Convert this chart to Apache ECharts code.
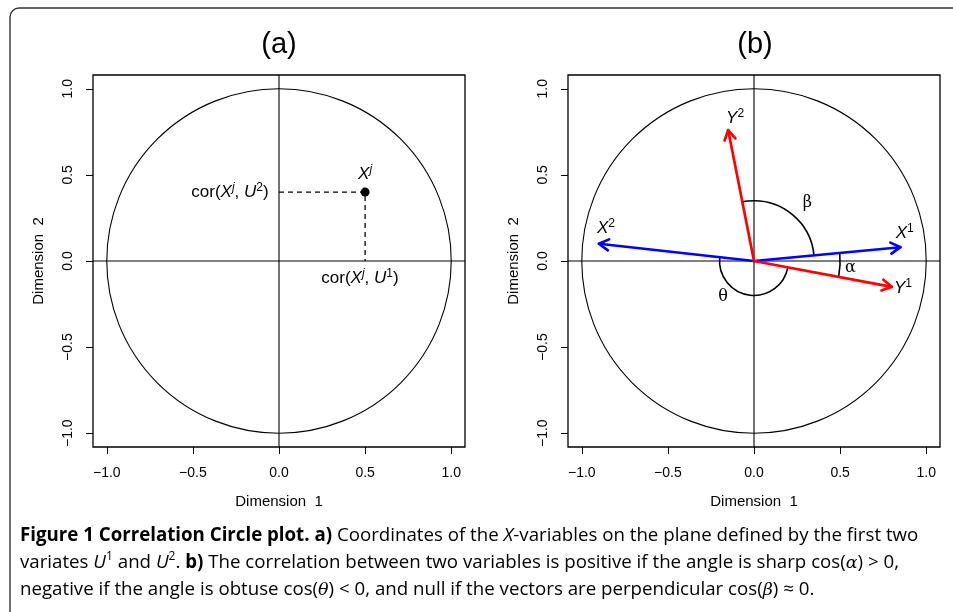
<!DOCTYPE html>
<html>
<head>
<meta charset="utf-8">
<script src="https://cdn.jsdelivr.net/npm/echarts@6/dist/echarts.min.js"></script>
<style>
  html, body { margin: 0; background: #fff; }
  #chart { width: 953px; height: 612px; }
</style>
</head>
<body>
<div id="chart"></div>
<script>
// ---- data ----
const tickValues = [-1, -0.5, 0, 0.5, 1];
const axisRange = [-1.08, 1.08];
const circleRadius = 1;

// panel (a): one variable X^j and its two correlations
const pointXj = [0.5, 0.4];

// panel (b): variable vectors (blue) and response vectors (red)
const xVectors = [[0.85, 0.08], [-0.9, 0.1]];   // X1, X2
const yVectors = [[0.8, -0.15], [-0.15, 0.76]]; // Y1, Y2
const xVectorNames = ['1', '2'];
const yVectorNames = ['1', '2'];
const xLabelPos = [[0.875, 0.16], [-0.86, 0.19]];
const yLabelPos = [[0.865, -0.16], [-0.11, 0.83]];

// angle arcs: radius, from vector, to vector (counter-clockwise)
const arcRadius = [0.35, 0.2, 0.5];
const arcFrom = [xVectors[0], xVectors[1], yVectors[0]];
const arcTo = [yVectors[1], yVectors[0], xVectors[0]];
const arcNames = ['β', 'θ', 'α'];
const arcLabelPos = [[0.31, 0.34], [-0.18, -0.21], [0.56, -0.04]];

const FONT = 'Liberation Sans';

const fmtTick = v => v.toFixed(1).replace('-', '\u2212');

const rich = {
  n: { fontFamily: FONT, fontSize: 17, color: '#000', lineHeight: 21 },
  i: { fontFamily: FONT, fontSize: 17, fontStyle: 'italic', color: '#000', lineHeight: 21 },
  s: { fontFamily: FONT, fontSize: 12, fontStyle: 'italic', color: '#000', lineHeight: 21, verticalAlign: 'top' },
  d: { fontFamily: FONT, fontSize: 12, color: '#000', lineHeight: 21, verticalAlign: 'top' },
  g: { fontFamily: 'DejaVu Serif', fontSize: 16, color: '#000', lineHeight: 21 },
};

function renderFrame(params, api) {
  const cs = params.coordSys;
  const c = api.coord([api.value(0), api.value(1)]);
  const r = api.size([api.value(2), 0])[0];
  const s = { stroke: '#000', lineWidth: 1.1, fill: 'none' };
  return {
    type: 'group',
    children: [
      { type: 'circle', shape: { cx: c[0], cy: c[1], r: r }, style: s },
      { type: 'line', shape: { x1: cs.x, y1: c[1], x2: cs.x + cs.width, y2: c[1] }, style: s },
      { type: 'line', shape: { x1: c[0], y1: cs.y, x2: c[0], y2: cs.y + cs.height }, style: s },
    ],
  };
}

function renderArrow(params, api) {
  const o = api.coord([0, 0]);
  const t = api.coord([api.value(0), api.value(1)]);
  const ang = Math.atan2(t[1] - o[1], t[0] - o[0]);
  const L = 11, sp = Math.PI / 6;
  const h1 = [t[0] - L * Math.cos(ang - sp), t[1] - L * Math.sin(ang - sp)];
  const h2 = [t[0] - L * Math.cos(ang + sp), t[1] - L * Math.sin(ang + sp)];
  const s = { stroke: api.visual('color'), lineWidth: 2.7, lineCap: 'round', lineJoin: 'round', fill: 'none' };
  return {
    type: 'group',
    children: [
      { type: 'line', shape: { x1: o[0], y1: o[1], x2: t[0], y2: t[1] }, style: s },
      { type: 'polyline', shape: { points: [h1, t, h2] }, style: s },
    ],
  };
}

function renderArc(params, api) {
  const o = api.coord([0, 0]);
  const r = api.size([api.value(0), 0])[0];
  return {
    type: 'arc',
    shape: { cx: o[0], cy: o[1], r: r, startAngle: -api.value(1), endAngle: -api.value(2), clockwise: false },
    style: { stroke: '#000', lineWidth: 1.6, fill: 'none' },
  };
}

const angleOf = v => Math.atan2(v[1], v[0]);

function axisPair(i) {
  const common = {
    gridIndex: i, type: 'value', min: axisRange[0], max: axisRange[1],
    axisLine: { show: false, onZero: false },
    splitLine: { show: false },
    axisTick: { show: true, length: 7, customValues: tickValues, lineStyle: { color: '#000', width: 1 } },
    nameLocation: 'middle',
    nameTextStyle: { fontFamily: FONT, fontSize: 15, color: '#000' },
  };
  return {
    x: Object.assign({}, common, {
      name: 'Dimension  1', nameGap: 47,
      axisLabel: { customValues: tickValues, formatter: fmtTick, margin: 19, fontFamily: FONT, fontSize: 14, color: '#000' },
    }),
    y: Object.assign({}, common, {
      name: 'Dimension  2', nameGap: 47, nameRotate: 90,
      axisLabel: { customValues: tickValues, formatter: fmtTick, rotate: 90, margin: 18, fontFamily: FONT, fontSize: 14, color: '#000' },
    }),
  };
}
const ax0 = axisPair(0), ax1 = axisPair(1);

// scatter defaults to 0.8 opacity, which greys the text out
const textSeries = (i, items) => ({
  type: 'scatter', xAxisIndex: i, yAxisIndex: i, symbolSize: 0, silent: true,
  itemStyle: { opacity: 1 },
  label: { show: true, position: 'inside', opacity: 1, fontFamily: FONT, fontSize: 17, color: '#000', rich: rich },
  data: items,
});

function captionRich() {
  const base = { fontFamily: 'Open Sans', fontSize: 18.7, color: '#1a1a1a', lineHeight: 24 };
  return {
    r: base,
    b: Object.assign({}, base, { fontWeight: 'bold', color: '#000' }),
    it: Object.assign({}, base, { fontStyle: 'italic' }),
    sup: Object.assign({}, base, { fontSize: 12, verticalAlign: 'top' }),
    m: Object.assign({}, base, { fontFamily: 'DejaVu Serif', fontStyle: 'italic', fontSize: 17.5 }),
  };
}

const option = {
  animation: false,
  grid: [
    { left: 93, top: 75, width: 372, height: 372, show: true, borderColor: '#000', borderWidth: 1.3 },
    { left: 568, top: 75, width: 372, height: 372, show: true, borderColor: '#000', borderWidth: 1.3 },
  ],
  xAxis: [ax0.x, ax1.x],
  yAxis: [ax0.y, ax1.y],
  graphic: [
    { type: 'rect', shape: { x: 10, y: 8, width: 1200, height: 900, r: 9 }, style: { stroke: '#333', lineWidth: 1.4, fill: 'none' } },
    { type: 'text', x: 279, y: 45, style: { text: '(a)', font: '29px "Liberation Sans"', fill: '#000', align: 'center', verticalAlign: 'middle' } },
    { type: 'text', x: 755, y: 45, style: { text: '(b)', font: '29px "Liberation Sans"', fill: '#000', align: 'center', verticalAlign: 'middle' } },
    {
      type: 'text', x: 20, y: 536,
      style: {
        verticalAlign: 'middle',
        text: '{b|Figure 1 Correlation Circle plot. a)}{r| Coordinates of the }{it|X}{r|-variables on the plane defined by the first two}',
        rich: captionRich(),
      },
    },
    {
      type: 'text', x: 20, y: 563,
      style: {
        verticalAlign: 'middle',
        text: '{r|variates }{it|U}{sup|1}{r| and }{it|U}{sup|2}{r|. }{b|b)}{r| The correlation between two variables is positive if the angle is sharp cos(}{m|α}{r|) > 0,}',
        rich: captionRich(),
      },
    },
    {
      type: 'text', x: 20, y: 590,
      style: {
        verticalAlign: 'middle',
        text: '{r|negative if the angle is obtuse cos(}{m|θ}{r|) < 0, and null if the vectors are perpendicular cos(}{m|β}{r|) ≈ 0.}',
        rich: captionRich(),
      },
    },
  ],
  series: [
    // panel (a)
    { type: 'custom', xAxisIndex: 0, yAxisIndex: 0, renderItem: renderFrame, data: [[0, 0, circleRadius]], silent: true },
    {
      type: 'line', xAxisIndex: 0, yAxisIndex: 0, symbol: 'none', silent: true,
      lineStyle: { color: '#000', width: 1.3, type: [5, 4] },
      data: [[0, pointXj[1]], pointXj, [pointXj[0], 0]],
    },
    {
      type: 'scatter', xAxisIndex: 0, yAxisIndex: 0, symbolSize: 9, silent: true,
      itemStyle: { color: '#000', opacity: 1 }, data: [pointXj],
    },
    textSeries(0, [
      { value: [pointXj[0], pointXj[1] + 0.105], label: { formatter: '{i|X}{s|j}' } },
      { value: [-0.06, pointXj[1]], label: { align: 'right', formatter: '{n|cor(}{i|X}{s|j}{n|, }{i|U}{d|2}{n|)}' } },
      { value: [pointXj[0] - 0.03, -0.1], label: { formatter: '{n|cor(}{i|X}{s|j}{n|, }{i|U}{d|1}{n|)}' } },
    ]),
    // panel (b)
    { type: 'custom', xAxisIndex: 1, yAxisIndex: 1, renderItem: renderFrame, data: [[0, 0, circleRadius]], silent: true },
    {
      type: 'custom', xAxisIndex: 1, yAxisIndex: 1, renderItem: renderArc, silent: true,
      data: arcRadius.map((r, k) => [r, angleOf(arcFrom[k]), angleOf(arcTo[k])]),
    },
    { type: 'custom', xAxisIndex: 1, yAxisIndex: 1, renderItem: renderArrow, itemStyle: { color: '#0000FF' }, data: xVectors, silent: true },
    { type: 'custom', xAxisIndex: 1, yAxisIndex: 1, renderItem: renderArrow, itemStyle: { color: '#FF0000' }, data: yVectors, silent: true },
    textSeries(1, [
      ...xLabelPos.map((p, k) => ({ value: p, label: { formatter: '{i|X}{d|' + xVectorNames[k] + '}' } })),
      ...yLabelPos.map((p, k) => ({ value: p, label: { formatter: '{i|Y}{d|' + yVectorNames[k] + '}' } })),
      ...arcLabelPos.map((p, k) => ({ value: p, label: { formatter: '{g|' + arcNames[k] + '}' } })),
    ]),
  ],
};

const chart = echarts.init(document.getElementById('chart'), null, { renderer: 'canvas' });
chart.setOption(option);
</script>
</body>
</html>
